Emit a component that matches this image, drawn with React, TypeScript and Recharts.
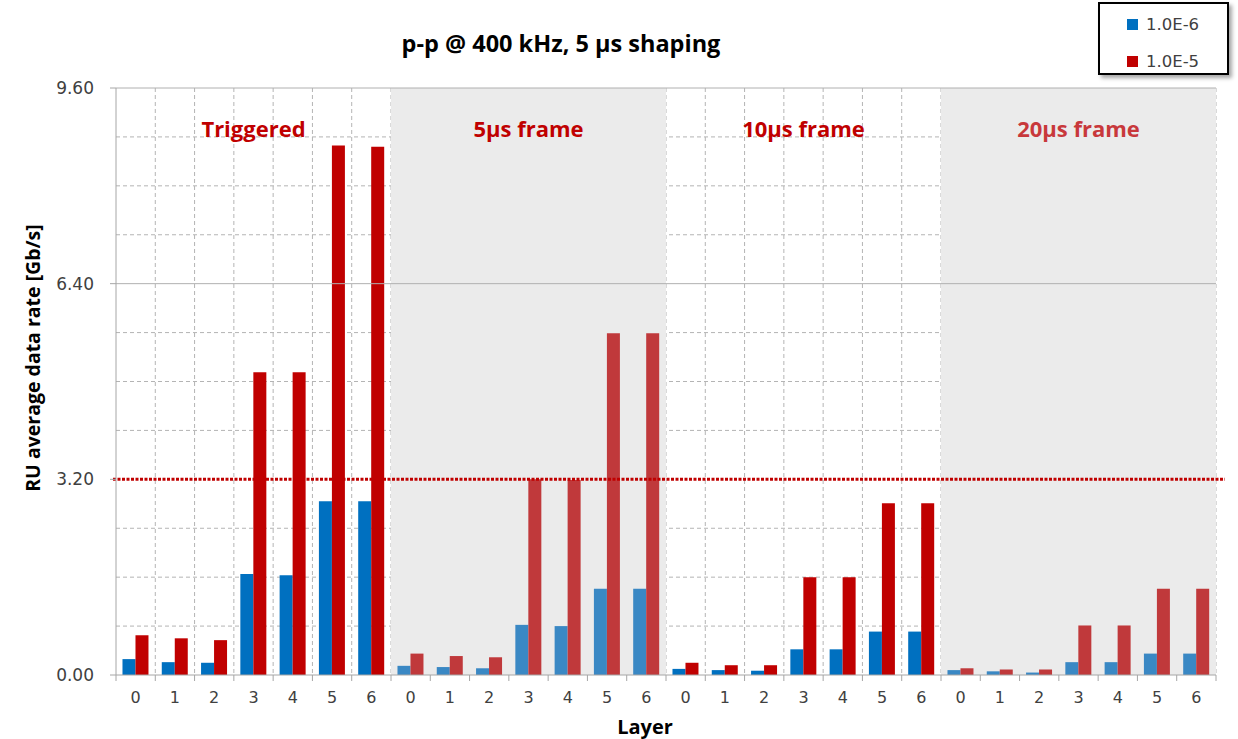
import React from 'react';
import {
  BarChart,
  Bar,
  XAxis,
  YAxis,
  CartesianGrid,
  ReferenceArea,
  ReferenceLine,
  Cell,
} from 'recharts';

// Readout mode groups, each with layers 0..6
const groups = ['Triggered', '5µs frame', '10µs frame', '20µs frame'];
const groupIds = ['trg', 'f5', 'f10', 'f20'];
const layers = [0, 1, 2, 3, 4, 5, 6];

// Average data rate per RU [Gb/s] at fake-hit rate 1.0E-6
const rate1e6 = [
  0.26, 0.21, 0.2, 1.65, 1.63, 2.84, 2.84,
  0.15, 0.13, 0.11, 0.82, 0.8, 1.41, 1.41,
  0.1, 0.08, 0.07, 0.42, 0.42, 0.71, 0.71,
  0.08, 0.06, 0.04, 0.21, 0.21, 0.35, 0.35,
];

// Average data rate per RU [Gb/s] at fake-hit rate 1.0E-5
const rate1e5 = [
  0.65, 0.6, 0.57, 4.95, 4.95, 8.66, 8.64,
  0.35, 0.31, 0.29, 3.2, 3.19, 5.59, 5.59,
  0.2, 0.16, 0.16, 1.6, 1.6, 2.81, 2.81,
  0.11, 0.09, 0.09, 0.81, 0.81, 1.41, 1.41,
];

const seriesNames = ['1.0E-6', '1.0E-5'];
const yTicks = [0, 3.2, 6.4, 9.6];
const yMinor = [0.8, 1.6, 2.4, 4.0, 4.8, 5.6, 7.2, 8.0, 8.8];
const limit = 3.2;

const groupLabelColors = ['#c00000', '#c00000', '#c00000', '#c8383b'];
const shadedGroups = [false, true, false, true];
const blueStrong = '#0070c0';
const redStrong = '#c00000';
const blueSoft = '#3a88c4';
const redSoft = '#c0393b';

const data = groupIds.flatMap((g, gi) =>
  layers.map((l, li) => ({
    cat: `${g}-${l}`,
    layer: l,
    group: gi,
    r6: rate1e6[gi * 7 + li],
    r5: rate1e5[gi * 7 + li],
  }))
);

const FONT = '"Open Sans", "DejaVu Sans", sans-serif';
const TICK_FONT = '"DejaVu Sans", Verdana, sans-serif';
const YMAX = 9.6;
const N = data.length;

const XTick = (props: any) => {
  const { x, y, payload, index, width } = props;
  const step = width / N;
  const left = x - step / 2;
  const item = data.find((d) => d.cat === payload.value);
  return (
    <g>
      <line x1={left} y1={y - 8} x2={left} y2={y - 2} stroke="#a6a6a6" strokeWidth={1} />
      {index === N - 1 && (
        <line x1={x + step / 2} y1={y - 8} x2={x + step / 2} y2={y - 2} stroke="#a6a6a6" strokeWidth={1} />
      )}
      <text
        x={x}
        y={y + 20}
        textAnchor="middle"
        fill="#404040"
        fontSize={16}
        fontFamily={TICK_FONT}
      >
        {item ? item.layer : ''}
      </text>
    </g>
  );
};

const LegendBox = () => (
  <div
    style={{
      position: 'absolute',
      left: 1098,
      top: 2,
      width: 131,
      height: 73,
      border: '2px solid #000',
      background: '#fff',
      boxShadow: '3px 3px 4px rgba(0,0,0,0.35)',
      boxSizing: 'border-box',
      fontFamily: TICK_FONT,
      fontSize: 16.5,
      color: '#404040',
      paddingTop: 0,
      paddingLeft: 27,
    }}
  >
    {[blueStrong, redStrong].map((c, i) => (
      <div
        key={seriesNames[i]}
        style={{ position: 'absolute', left: 27, top: i === 0 ? 6 : 43, display: 'flex', alignItems: 'center', height: 28 }}
      >
        <span style={{ width: 11, height: 11, background: c, display: 'inline-block', marginRight: 8 }} />
        <span>{seriesNames[i]}</span>
      </div>
    ))}
  </div>
);

const LimitLine = (props: any) => {
  const { x1, x2, y1 } = props;
  return (
    <line
      x1={x1 - 3}
      x2={x2 + 9}
      y1={y1}
      y2={y1}
      stroke="#c00000"
      strokeWidth={3}
      strokeDasharray="3 1.5"
    />
  );
};

export default function App() {
  return (
    <div style={{ position: 'absolute', left: 0, top: 0, width: 1238, height: 739, background: '#fff' }}>
      <BarChart
        width={1238}
        height={739}
        data={data}
        margin={{ top: 88, right: 22, left: 0, bottom: 34 }}
        barCategoryGap="16.5%"
        barGap={0}
      >
        {groupIds.map((g, gi) => (
          <ReferenceArea
            key={g}
            x1={`${g}-0`}
            x2={`${g}-6`}
            y1={0}
            y2={YMAX}
            fill={shadedGroups[gi] ? '#ebebeb' : '#ffffff'}
            fillOpacity={shadedGroups[gi] ? 1 : 0}
            stroke="none"
            label={{
              value: groups[gi],
              position: 'insideTop',
              offset: 33,
              fill: groupLabelColors[gi],
              fontSize: 22,
              fontWeight: 700,
              fontFamily: FONT,
            }}
          />
        ))}
        <CartesianGrid
          stroke="#b4b4b4"
          strokeDasharray="4 3"
          horizontalCoordinatesGenerator={({ offset }: any) =>
            yMinor.map((v) => offset.top + offset.height * (1 - v / YMAX))
          }
          verticalCoordinatesGenerator={({ offset }: any) =>
            Array.from({ length: N }, (_, i) => offset.left + ((i + 1) * offset.width) / N)
          }
        />
        <ReferenceLine y={6.4} stroke="#b0b0b0" strokeWidth={1} />
        <ReferenceLine y={9.6} stroke="#b0b0b0" strokeWidth={1} />
        <XAxis
          dataKey="cat"
          height={30}
          tickLine={false}
          axisLine={{ stroke: '#a6a6a6' }}
          interval={0}
          tick={<XTick />}
        />
        <YAxis
          width={116}
          domain={[0, YMAX]}
          ticks={yTicks}
          interval={0}
          tickFormatter={(v: number) => v.toFixed(2)}
          tick={{ fill: '#404040', fontSize: 17, fontFamily: TICK_FONT }}
          tickLine={{ stroke: '#a6a6a6' }}
          tickSize={6}
          tickMargin={16}
          axisLine={{ stroke: '#a6a6a6' }}
        />
        <Bar dataKey="r6" name={seriesNames[0]} fill={blueStrong} isAnimationActive={false}>
          {data.map((d) => (
            <Cell key={d.cat} fill={shadedGroups[d.group] ? blueSoft : blueStrong} />
          ))}
        </Bar>
        <Bar dataKey="r5" name={seriesNames[1]} fill={redStrong} isAnimationActive={false}>
          {data.map((d) => (
            <Cell key={d.cat} fill={shadedGroups[d.group] ? redSoft : redStrong} />
          ))}
        </Bar>
        <ReferenceLine y={limit} shape={<LimitLine />} ifOverflow="visible" />
        <text
          x={561}
          y={52}
          textAnchor="middle"
          fontSize={23.5}
          fontWeight={700}
          fontFamily={FONT}
          fill="#000"
        >
          p-p @ 400 kHz, 5 µs shaping
        </text>
        <text
          x={40}
          y={358}
          transform="rotate(-90, 40, 358)"
          textAnchor="middle"
          fontSize={19.5}
          fontWeight={700}
          fontFamily={FONT}
          fill="#000"
        >
          RU average data rate [Gb/s]
        </text>
        <text
          x={645}
          y={734}
          textAnchor="middle"
          fontSize={20}
          fontWeight={700}
          fontFamily={FONT}
          fill="#000"
        >
          Layer
        </text>
      </BarChart>
      <LegendBox />
    </div>
  );
}
